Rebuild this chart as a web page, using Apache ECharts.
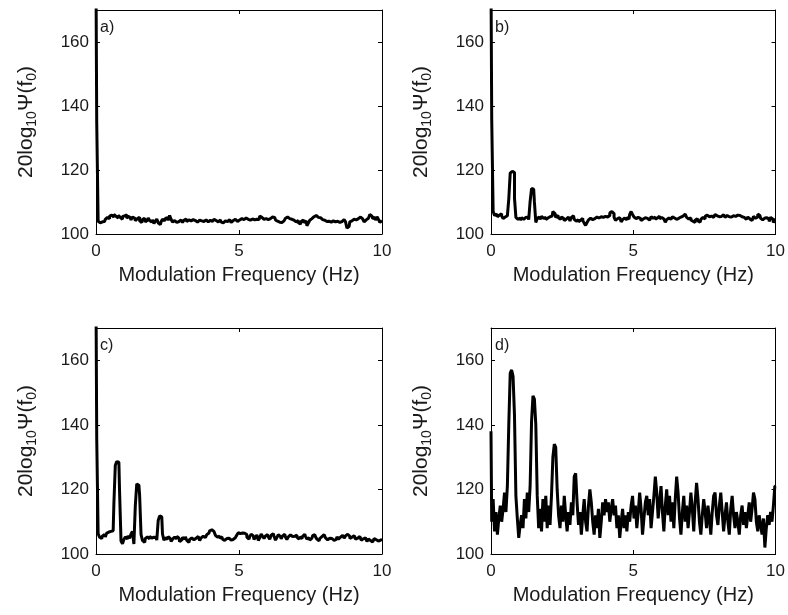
<!DOCTYPE html>
<html>
<head>
<meta charset="utf-8">
<script src="https://cdn.jsdelivr.net/npm/echarts@6.0.0/dist/echarts.min.js"></script>
<style>
  html, body { margin: 0; padding: 0; background: #fff; }
  #chart { width: 788px; height: 615px; }
</style>
</head>
<body>
<div id="chart"></div>
<script>
// spectrum bins are 0.05 Hz apart, 0 .. 10 Hz (201 values per panel)
const FREQ_STEP = 0.05;
const xRange = [0, 10];
const yRange = [100, 170];
const panelLabels = ['a)', 'b)', 'c)', 'd)'];
const xTitle = 'Modulation Frequency (Hz)';

const spectrumA = [
  180, 135, 104, 103.5, 103.8, 104.2, 103.9, 104.6, 105.2, 104.8, 105.6, 105.9, 105.3, 106.1, 105.5, 105.0, 105.8, 105.2, 104.6, 105.4,
  105.7, 106.0, 104.9, 105.6, 105.1, 104.4, 105.3, 105.0, 104.2, 104.8, 105.2, 104.1, 103.6, 104.5, 104.9, 103.8, 104.3, 105.0, 104.2, 103.7,
  104.4, 103.3, 104.0, 104.7, 103.5, 102.9, 103.8, 104.6, 104.1, 104.9, 105.1, 104.3, 105.8, 104.6, 103.7, 104.2, 103.6, 104.1, 103.9, 104.4,
  104.0, 103.6, 104.3, 104.7, 103.9, 104.4, 104.1, 103.8, 104.5, 104.2, 104.0, 103.7, 104.3, 104.6, 104.1, 103.9, 104.2, 104.4, 103.8, 104.1,
  104.3, 103.9, 104.0, 104.6, 104.2, 103.8, 104.1, 104.4, 103.7, 103.5, 104.1, 104.3, 103.9, 104.5, 104.0, 103.6, 104.2, 104.6, 104.1, 103.9,
  104.4, 104.2, 104.8, 104.5, 104.1, 105.0, 104.6, 104.9, 104.3, 104.7, 105.1, 104.4, 104.6, 105.0, 104.5, 105.6, 105.2, 104.6, 104.2, 104.8,
  104.5, 104.1, 104.8, 105.3, 104.9, 105.2, 104.4, 104.0, 103.7, 104.2, 103.6, 104.1, 104.5, 104.9, 105.3, 104.8, 105.2, 104.6, 104.3, 104.0,
  103.8, 104.2, 103.5, 103.1, 103.9, 104.4, 103.6, 104.1, 102.6, 103.4, 104.3, 104.8, 105.4, 105.0, 105.8, 105.2, 104.6, 105.1, 104.5, 104.1,
  104.3, 103.9, 104.2, 104.0, 103.7, 104.3, 104.1, 103.8, 104.4, 104.0, 103.6, 104.2, 103.9, 104.5, 104.1, 103.8, 101.8, 102.4, 103.8, 104.1,
  104.6, 105.0, 104.4, 104.8, 104.3, 105.3, 104.7, 104.1, 103.8, 104.4, 104.9, 105.5, 106.1, 105.6, 104.8, 105.2, 104.3, 105.4, 104.6, 103.6,
  104.2
];

const spectrumB = [
  180, 136, 107.0, 105.8, 106.2, 105.4, 105.9, 106.3, 105.6, 104.8, 105.3, 105.7, 105.1, 111.0, 119.0, 119.6, 119.2, 111.3, 105.2, 104.6,
  105.0, 104.3, 105.1, 104.6, 105.2, 104.7, 105.3, 104.5, 110.2, 114.2, 114.0, 110.1, 103.6, 104.9, 105.3, 104.6, 105.5, 104.9, 105.2, 104.5,
  105.0, 105.4, 104.8, 105.6, 107.0, 106.4, 105.2, 105.8, 105.0, 104.6, 105.3, 104.9, 104.2, 104.7, 105.3, 104.8, 104.1, 105.2, 105.7, 104.6,
  104.0, 104.5, 103.8, 104.3, 104.9, 104.2, 103.4, 102.7, 103.6, 104.4, 104.9, 104.5, 105.1, 104.8, 105.3, 104.7, 105.0, 105.4, 104.9, 105.2,
  105.5, 105.1, 105.3, 105.8, 106.6, 107.0, 106.4, 105.2, 104.3, 104.8, 105.1, 104.6, 103.8, 104.5, 105.0, 104.4, 105.2, 104.7, 106.2, 107.0,
  106.1, 105.3, 104.8, 105.2, 104.6, 104.9, 104.2, 104.7, 105.1, 104.5, 104.9, 104.3, 104.8, 105.4, 104.9, 105.3, 104.6, 105.0, 105.6, 104.8,
  105.2, 104.7, 104.1, 103.7, 104.5, 105.0, 104.6, 104.9, 105.4, 105.0, 104.6, 104.2, 104.9, 105.3, 104.8, 105.6, 106.2, 105.8, 105.2, 104.7,
  105.1, 104.4, 104.0, 103.6, 104.3, 104.8, 104.1, 103.7, 104.6, 105.2, 104.7, 105.5, 105.9, 105.4, 106.0, 105.6, 105.2, 105.8, 106.1, 105.7,
  105.4, 105.9, 105.5, 106.0, 105.6, 105.2, 105.8, 105.4, 104.9, 105.3, 105.7, 106.0, 105.5, 105.9, 105.3, 105.8, 105.4, 104.8, 105.2, 104.6,
  104.9, 105.3, 104.7, 104.2, 104.8, 105.5, 104.9, 105.3, 106.2, 105.8, 104.9, 104.4, 105.0, 104.5, 105.1, 104.6, 103.9, 105.2, 104.7, 103.6,
  104.5
];

const spectrumC = [
  180, 136, 106.3, 105.2, 104.8, 105.6, 106.0, 105.3, 106.5, 106.8, 107.0, 106.4, 107.2, 115.5, 127.5, 128.6, 128.4, 119.0, 104.0, 103.2,
  104.5, 105.3, 104.7, 105.6, 104.9, 106.2, 107.0, 103.1, 115.0, 121.7, 121.3, 118.2, 106.0, 104.2, 103.6, 104.8, 105.3, 104.7, 105.5, 104.9,
  105.2, 104.6, 105.1, 104.3, 110.4, 111.8, 111.5, 106.2, 104.3, 105.0, 104.6, 105.4, 104.8, 103.9, 104.6, 105.2, 104.7, 105.5, 104.9, 103.8,
  104.4, 105.1, 104.6, 105.3, 104.2, 103.6, 104.5, 105.0, 104.4, 103.8, 104.9, 105.4, 104.8, 104.2, 105.0, 105.5, 105.1, 105.6, 106.0, 106.5,
  107.2, 107.5, 107.0, 106.4, 105.8, 105.2, 105.6, 104.9, 105.3, 104.6, 104.2, 104.8, 105.4, 104.9, 104.3, 103.8, 104.5, 105.1, 104.6, 105.9,
  106.6, 106.3, 106.5, 106.1, 106.4, 106.0, 105.2, 104.6, 105.4, 106.1, 105.6, 104.5, 105.2, 105.9, 104.2, 105.0, 106.2, 105.5, 104.8, 105.6,
  106.0, 105.3, 104.6, 105.8, 106.3, 105.5, 104.3, 105.1, 106.0, 105.4, 104.7, 105.6, 106.1, 105.2, 104.5, 105.3, 105.9, 105.4, 104.8, 105.5,
  105.9, 105.2, 104.6, 105.3, 104.8, 105.5, 106.1, 105.4, 104.7, 105.0, 104.3, 104.9, 105.7, 106.0, 105.3, 104.6, 104.1, 104.8, 105.4, 106.0,
  105.6, 105.0, 104.4, 104.9, 105.5, 104.8, 104.2, 103.7, 104.5, 105.3, 104.6, 105.2, 105.8, 105.3, 104.9, 105.6, 106.1, 105.5, 104.8, 105.2,
  105.7, 105.2, 104.6, 104.9, 105.4, 104.8, 104.3, 104.7, 105.0, 104.4, 103.9, 104.6, 104.2, 103.7, 104.3, 104.8, 104.4, 104.0, 104.6, 104.3,
  104.5
];

const spectrumD = [
  138, 110, 117, 107, 113, 106, 111, 115, 110, 114, 119, 113, 121, 140, 156, 157, 155, 143, 118, 111,
  105, 109, 112, 108, 117, 111, 119, 113, 121, 141, 149, 148, 140, 118, 108, 114, 107, 117, 110, 118,
  108, 115, 109, 118, 130, 134, 133, 120, 112, 108, 115, 110, 118, 112, 107, 113, 109, 116, 112, 124,
  125, 116, 109, 113, 106, 112, 117, 110, 107, 115, 120, 116, 110, 106, 112, 108, 114, 105, 110, 116,
  112, 117, 113, 116, 110, 114, 117, 112, 115, 108, 112, 105, 110, 114, 108, 112, 107, 113, 110, 115,
  118, 111, 115, 108, 113, 119, 114, 106, 111, 116, 118, 112, 117, 108, 113, 118, 124, 119, 111, 116,
  121, 113, 107, 115, 120, 112, 118, 110, 116, 108, 117, 124, 119, 111, 106, 113, 118, 110, 115, 108,
  113, 119, 114, 107, 116, 122, 117, 110, 106, 112, 117, 113, 108, 115, 111, 106, 113, 118, 119, 112,
  109, 115, 119, 113, 107, 112, 116, 110, 106, 114, 118, 112, 108, 113, 110, 106, 112, 115, 109, 113,
  108, 112, 116, 110, 114, 119, 117, 110, 107, 112, 109, 106, 111, 102, 108, 112, 109, 113, 110, 115,
  121
];

const spectra = [spectrumA, spectrumB, spectrumC, spectrumD];

const FONT = '"Liberation Sans", Arial, sans-serif';
const INK = '#000';
const TEXT = '#1a1a1a';

// subplot boxes (px)
const boxes = [
  { left: 96, top: 10, height: 224 },
  { left: 491, top: 10, height: 224 },
  { left: 96, top: 328, height: 226 },
  { left: 491, top: 328, height: 226 }
];
const BOX_W = 286;

const lineAxis = { show: true, onZero: false, lineStyle: { color: INK, width: 1 } };
const tick = { show: true, inside: true, length: 4, lineStyle: { color: INK } };

const option = {
  animation: false,
  backgroundColor: '#fff',
  title: [],
  grid: [],
  xAxis: [],
  yAxis: [],
  series: []
};

boxes.forEach((b, i) => {
  option.grid.push({ left: b.left, top: b.top, width: BOX_W, height: b.height, containLabel: false });
  option.title.push({
    text: panelLabels[i], left: b.left + 4, top: b.top + 10, padding: 0,
    textStyle: { fontFamily: FONT, fontSize: 16, fontWeight: 'normal', color: TEXT }
  });
  // bottom axis with labels
  option.xAxis.push({
    type: 'value', gridIndex: i, position: 'bottom',
    min: xRange[0], max: xRange[1], interval: 5,
    axisLine: lineAxis, axisTick: tick, splitLine: { show: false },
    axisLabel: { color: TEXT, fontFamily: FONT, fontSize: 17, margin: 9 },
    name: xTitle, nameLocation: 'middle', nameGap: 31,
    nameTextStyle: { color: TEXT, fontFamily: FONT, fontSize: 20 }
  });
  // mirrored top axis (ticks only)
  option.xAxis.push({
    type: 'value', gridIndex: i, position: 'top',
    min: xRange[0], max: xRange[1], interval: 5,
    axisLine: lineAxis, axisTick: tick, splitLine: { show: false },
    axisLabel: { show: false }
  });
  option.yAxis.push({
    type: 'value', gridIndex: i, position: 'left',
    min: yRange[0], max: yRange[1], interval: 20,
    axisLine: lineAxis, axisTick: tick, splitLine: { show: false },
    axisLabel: { color: TEXT, fontFamily: FONT, fontSize: 17, margin: 7, showMaxLabel: false },
    name: '{m|20log}{s|10}{m|Ψ(f}{s|0}{m|)}',
    nameLocation: 'middle', nameRotate: 90, nameGap: 57,
    nameTextStyle: {
      color: TEXT, fontFamily: FONT, fontSize: 21,
      rich: {
        m: { color: TEXT, fontFamily: FONT, fontSize: 21 },
        s: { color: TEXT, fontFamily: FONT, fontSize: 14, padding: [12, 0, 0, 0] }
      }
    }
  });
  option.yAxis.push({
    type: 'value', gridIndex: i, position: 'right',
    min: yRange[0], max: yRange[1], interval: 20,
    axisLine: lineAxis, axisTick: tick, splitLine: { show: false },
    axisLabel: { show: false }
  });
  option.series.push({
    type: 'line',
    xAxisIndex: 2 * i, yAxisIndex: 2 * i,
    data: spectra[i].map((v, k) => [k * FREQ_STEP, v]),
    showSymbol: false, step: 'middle', clip: true,
    lineStyle: { color: INK, width: 3 }
  });
});

const chart = echarts.init(document.getElementById('chart'), null, { renderer: 'canvas' });
chart.setOption(option);
</script>
</body>
</html>
